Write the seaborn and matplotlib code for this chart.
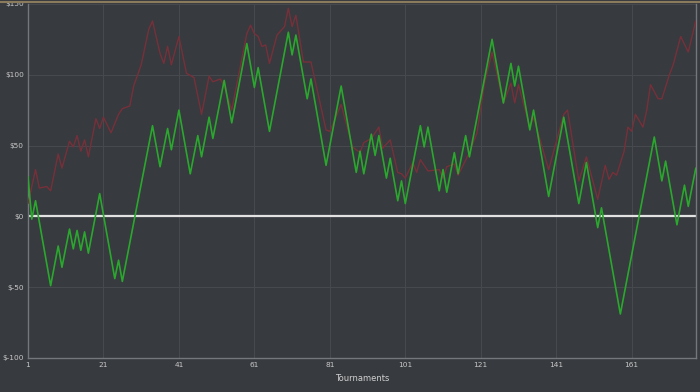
import matplotlib
matplotlib.use("Agg")
import matplotlib.pyplot as plt
import seaborn as sns
import pandas as pd
from matplotlib.lines import Line2D

# Actual results (green) - vertices of the zigzag
green_t = [1, 2, 3, 7, 9, 10, 12, 13, 14, 15, 16, 17, 20, 24, 25, 26, 34, 36, 38, 39,
           41, 44, 46, 47, 49, 50, 53, 55, 59, 61, 62, 65, 70, 71, 72, 75, 76, 80, 84, 88,
           89, 90, 92, 93, 94, 96, 97, 99, 100, 101, 105, 106, 107, 110, 111, 112, 114, 115, 117, 118,
           124, 127, 129, 130, 131, 134, 135, 139, 143, 147, 149, 152, 153, 158, 167, 169, 170, 173, 175, 176,
           178]
green_v = [28, -2, 11, -49, -21, -36, -9, -23, -10, -24, -11, -26, 16, -44, -31, -46, 64, 35, 62, 47,
           75, 30, 57, 42, 70, 55, 96, 66, 122, 91, 105, 60, 130, 114, 128, 83, 97, 36, 92, 31,
           46, 30, 58, 43, 57, 27, 41, 11, 25, 9, 64, 49, 63, 18, 33, 17, 45, 30, 57, 42,
           125, 80, 108, 92, 106, 61, 75, 14, 70, 9, 38, -8, 6, -69, 56, 25, 39, -6, 22, 7,
           34]

# Second series (dark red)
red_t = [1, 3, 4, 6, 7, 9, 10, 12, 13, 14, 15, 16, 17, 19, 20, 21, 23, 25, 26, 28,
         29, 31, 33, 34, 36, 37, 38, 39, 41, 43, 45, 47, 49, 50, 52, 53, 55, 59, 60, 61,
         62, 63, 64, 65, 67, 69, 70, 71, 72, 74, 76, 78, 80, 81, 84, 87, 89, 90, 92, 94,
         95, 97, 99, 100, 101, 103, 104, 105, 107, 110, 111, 112, 114, 115, 118, 120, 122, 124, 127, 129,
         130, 131, 134, 135, 139, 143, 144, 147, 149, 152, 154, 155, 156, 157, 159, 160, 161, 162, 164, 165,
         166, 168, 169, 171, 172, 174, 176, 178]
red_v = [9, 33, 20, 21, 18, 44, 34, 53, 49, 57, 46, 54, 42, 69, 62, 70, 59, 72, 76, 78,
         92, 107, 132, 138, 115, 108, 120, 107, 127, 101, 98, 72, 99, 95, 97, 92, 75, 129, 135, 129,
         127, 120, 121, 108, 128, 134, 147, 134, 142, 109, 109, 85, 61, 60, 79, 49, 45, 52, 55, 63,
         48, 54, 31, 30, 27, 38, 31, 40, 32, 33, 27, 35, 37, 29, 45, 59, 94, 116, 80, 94,
         80, 93, 63, 70, 33, 72, 75, 25, 42, 12, 36, 26, 31, 29, 46, 63, 60, 72, 63, 75,
         93, 83, 83, 100, 107, 127, 116, 138]

x_ticks = [1, 21, 41, 61, 81, 101, 121, 141, 161]
y_ticks = [-100, -50, 0, 50, 100, 150]
y_labels = ["$-100", "$-50", "$0", "$50", "$100", "$150"]

BG = "#373a3e"
sns.set_theme(style="dark")
plt.rcParams["font.family"] = ["DejaVu Sans"]

fig = plt.figure(figsize=(7, 3.92), dpi=100, facecolor=BG)
ax = fig.add_axes([0.04, 0.087, 0.954, 0.903])
ax.set_facecolor(BG)

df_g = pd.DataFrame({"t": green_t, "v": green_v})
df_r = pd.DataFrame({"t": red_t, "v": red_v})

ax.axhline(0, color="#e2e2e2", lw=1.6, zorder=2)
sns.lineplot(data=df_r, x="t", y="v", ax=ax, color="#77303a", lw=1.0, sort=False, zorder=3)
sns.lineplot(data=df_g, x="t", y="v", ax=ax, color="#2aa82e", lw=1.2, sort=False, zorder=4)

ax.set_xlim(1, 178)
ax.set_ylim(-100, 150)
ax.set_xticks(x_ticks)
ax.set_xticklabels([str(v) for v in x_ticks])
ax.set_yticks(y_ticks)
ax.set_yticklabels(y_labels)
ax.tick_params(axis="both", colors="#c8c8c8", labelsize=5.3, length=0, pad=3)
ax.set_xlabel("Tournaments", color="#d0d0d0", fontsize=6, labelpad=4)
ax.set_ylabel("")

ax.grid(True, color="#46494e", lw=0.8)
for s in ["left", "bottom", "right"]:
    ax.spines[s].set_visible(True)
    ax.spines[s].set_color("#74777b")
    ax.spines[s].set_linewidth(1.0)
ax.spines["top"].set_visible(False)

fig.add_artist(Line2D([0, 1], [0.995, 0.995], transform=fig.transFigure,
                      color="#8a7b5c", lw=1.5))

fig.savefig("out.png", dpi=100, facecolor=BG)
